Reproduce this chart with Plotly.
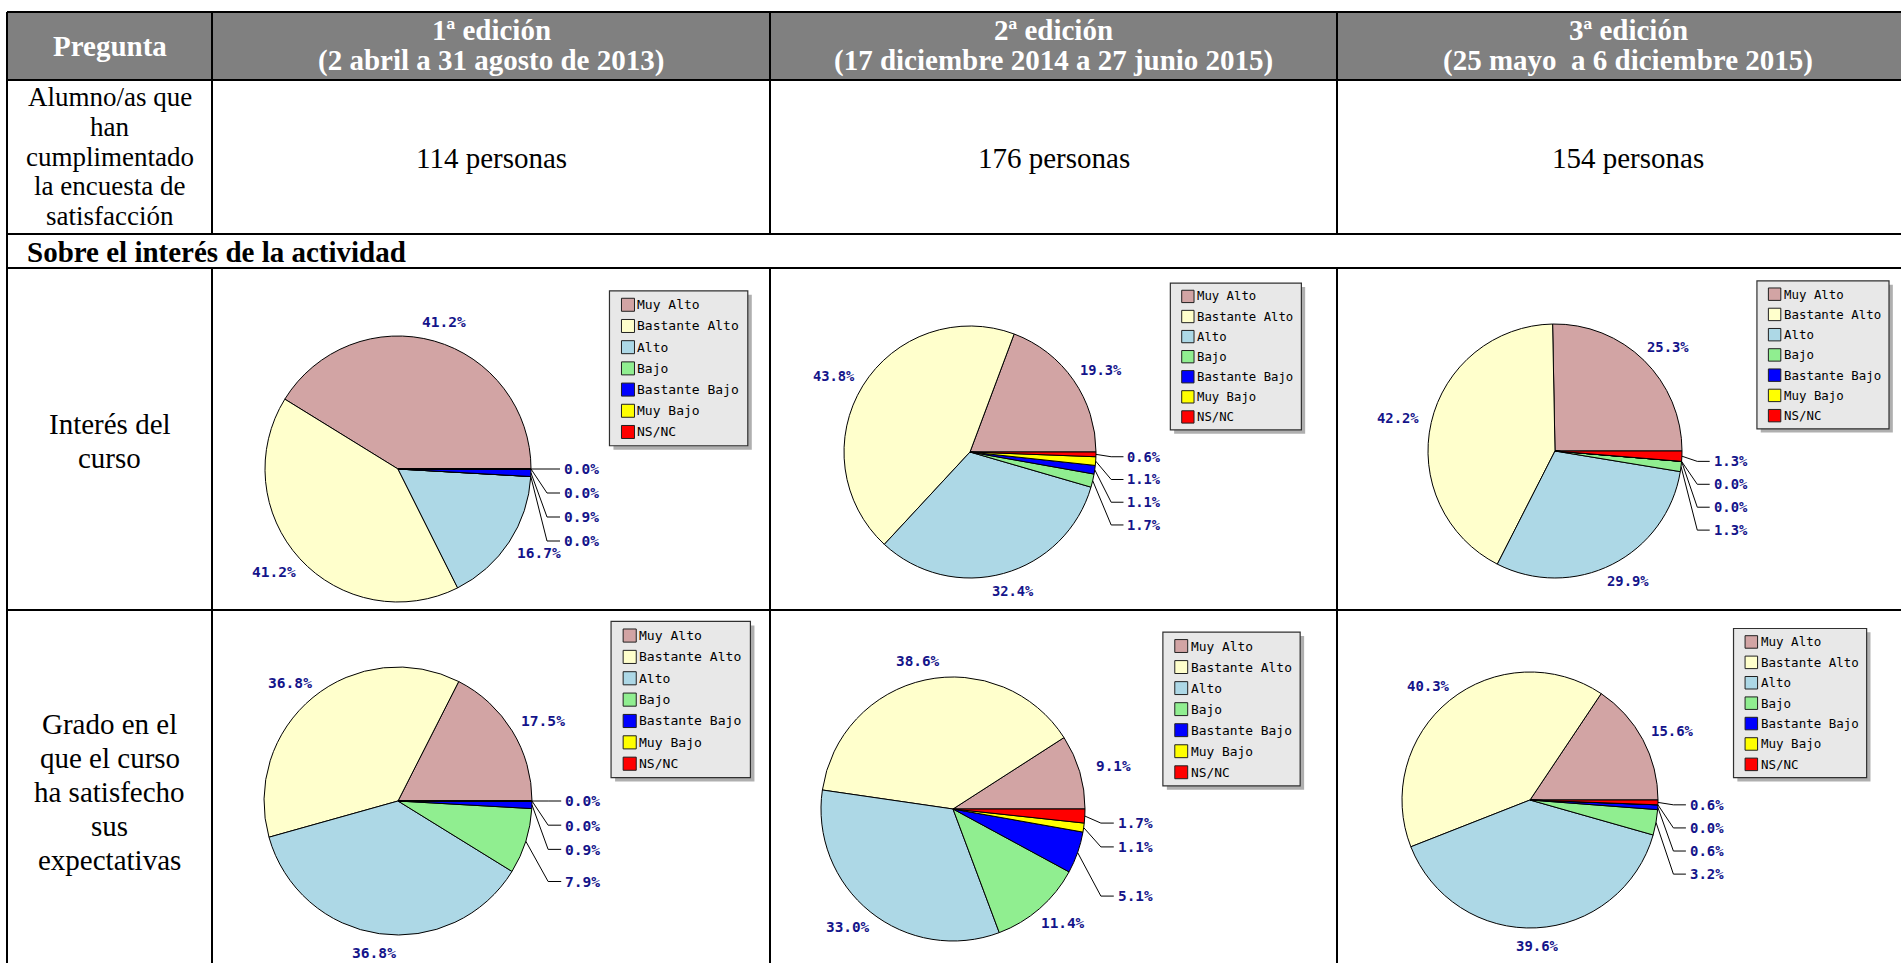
import math
import plotly.graph_objects as go

W, H = 1901, 963

# ---------------- data ----------------
categories = ["Muy Alto", "Bastante Alto", "Alto", "Bajo", "Bastante Bajo", "Muy Bajo", "NS/NC"]
slice_colors = ["#D2A4A4", "#FFFFCC", "#ADD8E6", "#90EE90", "#0000FF", "#FFFF00", "#FF0000"]

header_question = "Pregunta"
edition_titles = ["1ª edición", "2ª edición", "3ª edición"]
edition_periods = ["(2 abril a 31 agosto de 2013)",
                   "(17 diciembre 2014 a 27 junio 2015)",
                   "(25 mayo \u00a0a 6 diciembre 2015)"]
respondents_label = ["Alumno/as que", "han", "cumplimentado", "la encuesta de", "satisfacción"]
respondents = [114, 176, 154]
section_title = "Sobre el interés de la actividad"
question_interes = ["Interés del", "curso"]
question_satisf = ["Grado en el", "que el curso", "ha satisfecho", "sus", "expectativas"]

interes_ed1 = [41.2, 41.2, 16.7, 0.0, 0.9, 0.0, 0.0]
interes_ed2 = [19.3, 43.8, 32.4, 1.7, 1.1, 1.1, 0.6]
interes_ed3 = [25.3, 42.2, 29.9, 1.3, 0.0, 0.0, 1.3]
satisf_ed1 = [17.5, 36.8, 36.8, 7.9, 0.9, 0.0, 0.0]
satisf_ed2 = [9.1, 38.6, 33.0, 11.4, 5.1, 1.1, 1.7]
satisf_ed3 = [15.6, 40.3, 39.6, 3.2, 0.6, 0.0, 0.6]

# ---------------- layout geometry (pixels) ----------------
COL_X = [7, 212, 770, 1337, 1901]
ROW_Y = [12, 80, 234, 268, 610, 963]
PIE_FRAMES = [(398, 469, 133), (970, 452, 126), (1555, 451, 127),
              (398, 801, 134), (953, 809, 132), (1530, 800, 128)]

SERIF = "Liberation Serif, Times New Roman, serif"
MONO = "DejaVu Sans Mono, monospace"
LABEL_COLOR = "#14148a"


def px(x):
    return x / W


def py(y):
    return 1 - y / H


fig = go.Figure()
shapes = []
annotations = []


def line(x0, y0, x1, y1, width=2, color="black"):
    shapes.append(dict(type="line", xref="paper", yref="paper",
                       x0=px(x0), y0=py(y0), x1=px(x1), y1=py(y1),
                       line=dict(color=color, width=width)))


def rect(x0, y0, x1, y1, fill, lc=None, lw=0, layer="above"):
    shapes.append(dict(type="rect", xref="paper", yref="paper",
                       x0=px(x0), y0=py(y1), x1=px(x1), y1=py(y0),
                       fillcolor=fill, layer=layer,
                       line=dict(color=lc or fill, width=lw)))


def text(x, y, s, size, family=SERIF, color="black", bold=False, xanchor="center", yanchor="middle"):
    if bold:
        s = "<b>" + s + "</b>"
    annotations.append(dict(x=px(x), y=py(y), xref="paper", yref="paper", text=s,
                            showarrow=False, xanchor=xanchor, yanchor=yanchor,
                            font=dict(family=family, size=size, color=color)))


# ---------------- table ----------------
rect(COL_X[0], ROW_Y[0], COL_X[-1], ROW_Y[1], "#808080", layer="below")
for y in ROW_Y[:-1]:
    line(COL_X[0], y, COL_X[-1], y)
line(COL_X[0], ROW_Y[0], COL_X[0], ROW_Y[-1])
for x in COL_X[1:-1]:
    line(x, ROW_Y[0], x, ROW_Y[2])
    line(x, ROW_Y[3], x, ROW_Y[-1])

col_centers = [(COL_X[i] + COL_X[i + 1]) / 2 for i in range(4)]
col_centers[3] = 1628

text(col_centers[0], 46, header_question, 29, color="white", bold=True)
for i, (t, p) in enumerate(zip(edition_titles, edition_periods)):
    text(col_centers[i + 1], 30, t, 29, color="white", bold=True)
    text(col_centers[i + 1], 61, p, 29, color="white", bold=True)

for i, s in enumerate(respondents_label):
    text(col_centers[0], 97 + 29.8 * i, s, 27)
for i, n in enumerate(respondents):
    text(col_centers[i + 1], 158, f"{n} personas", 29)

text(COL_X[0] + 18, 252, section_title, 29, bold=True, xanchor="left")

for i, s in enumerate(question_interes):
    text(col_centers[0], 424 + 34 * i, s, 29)
for i, s in enumerate(question_satisf):
    text(col_centers[0], 724 + 34 * i, s, 29)

# ---------------- pies ----------------
all_series = [interes_ed1, interes_ed2, interes_ed3, satisf_ed1, satisf_ed2, satisf_ed3]

for vals, (cx, cy, r) in zip(all_series, PIE_FRAMES):
    s = r / 133.0
    total = sum(vals)
    # first slice starts at 3 o'clock and runs counterclockwise
    rot = 90 - vals[0] / total * 360.0
    fig.add_trace(go.Pie(
        values=vals, labels=categories, sort=False, direction="counterclockwise",
        rotation=rot, textinfo="none", hoverinfo="label+percent", showlegend=False,
        marker=dict(colors=slice_colors, line=dict(color="black", width=1)),
        domain=dict(x=[px(cx - r), px(cx + r)], y=[py(cy + r), py(cy - r)]),
    ))

    cum = 0.0
    mids = []
    for v in vals:
        a0 = cum / total * 360.0
        cum += v
        a1 = cum / total * 360.0
        mids.append((a0 + a1) / 2.0)

    # labels of large slices
    guided = []
    for v, a in zip(vals, mids):
        rad = math.radians(a)
        if v >= 8.5:
            R = 1.1 * r
            lx = cx + (R + 22 * s) * math.cos(rad)
            ly = cy - (R + 6 * s) * math.sin(rad)
            text(lx, ly, f"{v:.1f}%", 14.5 * s, family=MONO, color=LABEL_COLOR, bold=True)
        else:
            guided.append((v, a))

    # small slices: stacked labels with guide lines
    guided.sort(key=lambda t: -t[1])
    y_prev = -1e9
    for v, a in guided:
        rad = math.radians(a)
        nat = cy - 2 * r * math.sin(rad)
        yl = max(nat, y_prev + 24 * s)
        y_prev = yl
        ex, ey = cx + r * math.cos(rad), cy - r * math.sin(rad)
        path = (f"M {px(ex)} {py(ey)} L {px(cx + r + 16 * s)} {py(yl)} "
                f"L {px(cx + r + 29 * s)} {py(yl)}")
        shapes.append(dict(type="path", xref="paper", yref="paper", path=path,
                           line=dict(color="black", width=1)))
        text(cx + r + 31 * s, yl, f"{v:.1f}%", 14.5 * s, family=MONO,
             color=LABEL_COLOR, bold=True, xanchor="left")

    # legend box
    bl = cx + 1.59 * r
    bt = cy - 1.34 * r
    bw = 1.04 * r
    bh = 1.165 * r
    rect(bl + 4 * s, bt + 4 * s, bl + bw + 4 * s, bt + bh + 4 * s, "#AFAFAF")
    rect(bl, bt, bl + bw, bt + bh, "#E8E8E8", lc="#303030", lw=1.2)
    for i, (cat, col) in enumerate(zip(categories, slice_colors)):
        yi = bt + (14 + 21.2 * i) * s
        rect(bl + 12 * s, yi - 6.5 * s, bl + 25 * s, yi + 6.5 * s, col, lc="#202020", lw=1)
        text(bl + 26 * s, yi, cat, 13 * s, family=MONO, color="black", xanchor="left")

fig.update_layout(
    width=W, height=H, autosize=False,
    margin=dict(l=0, r=0, t=0, b=0),
    paper_bgcolor="white", plot_bgcolor="white",
    shapes=shapes, annotations=annotations,
    showlegend=False,
)

fig.write_html("out.html", config={"displayModeBar": False},
               post_script="document.body.style.margin='0';")
